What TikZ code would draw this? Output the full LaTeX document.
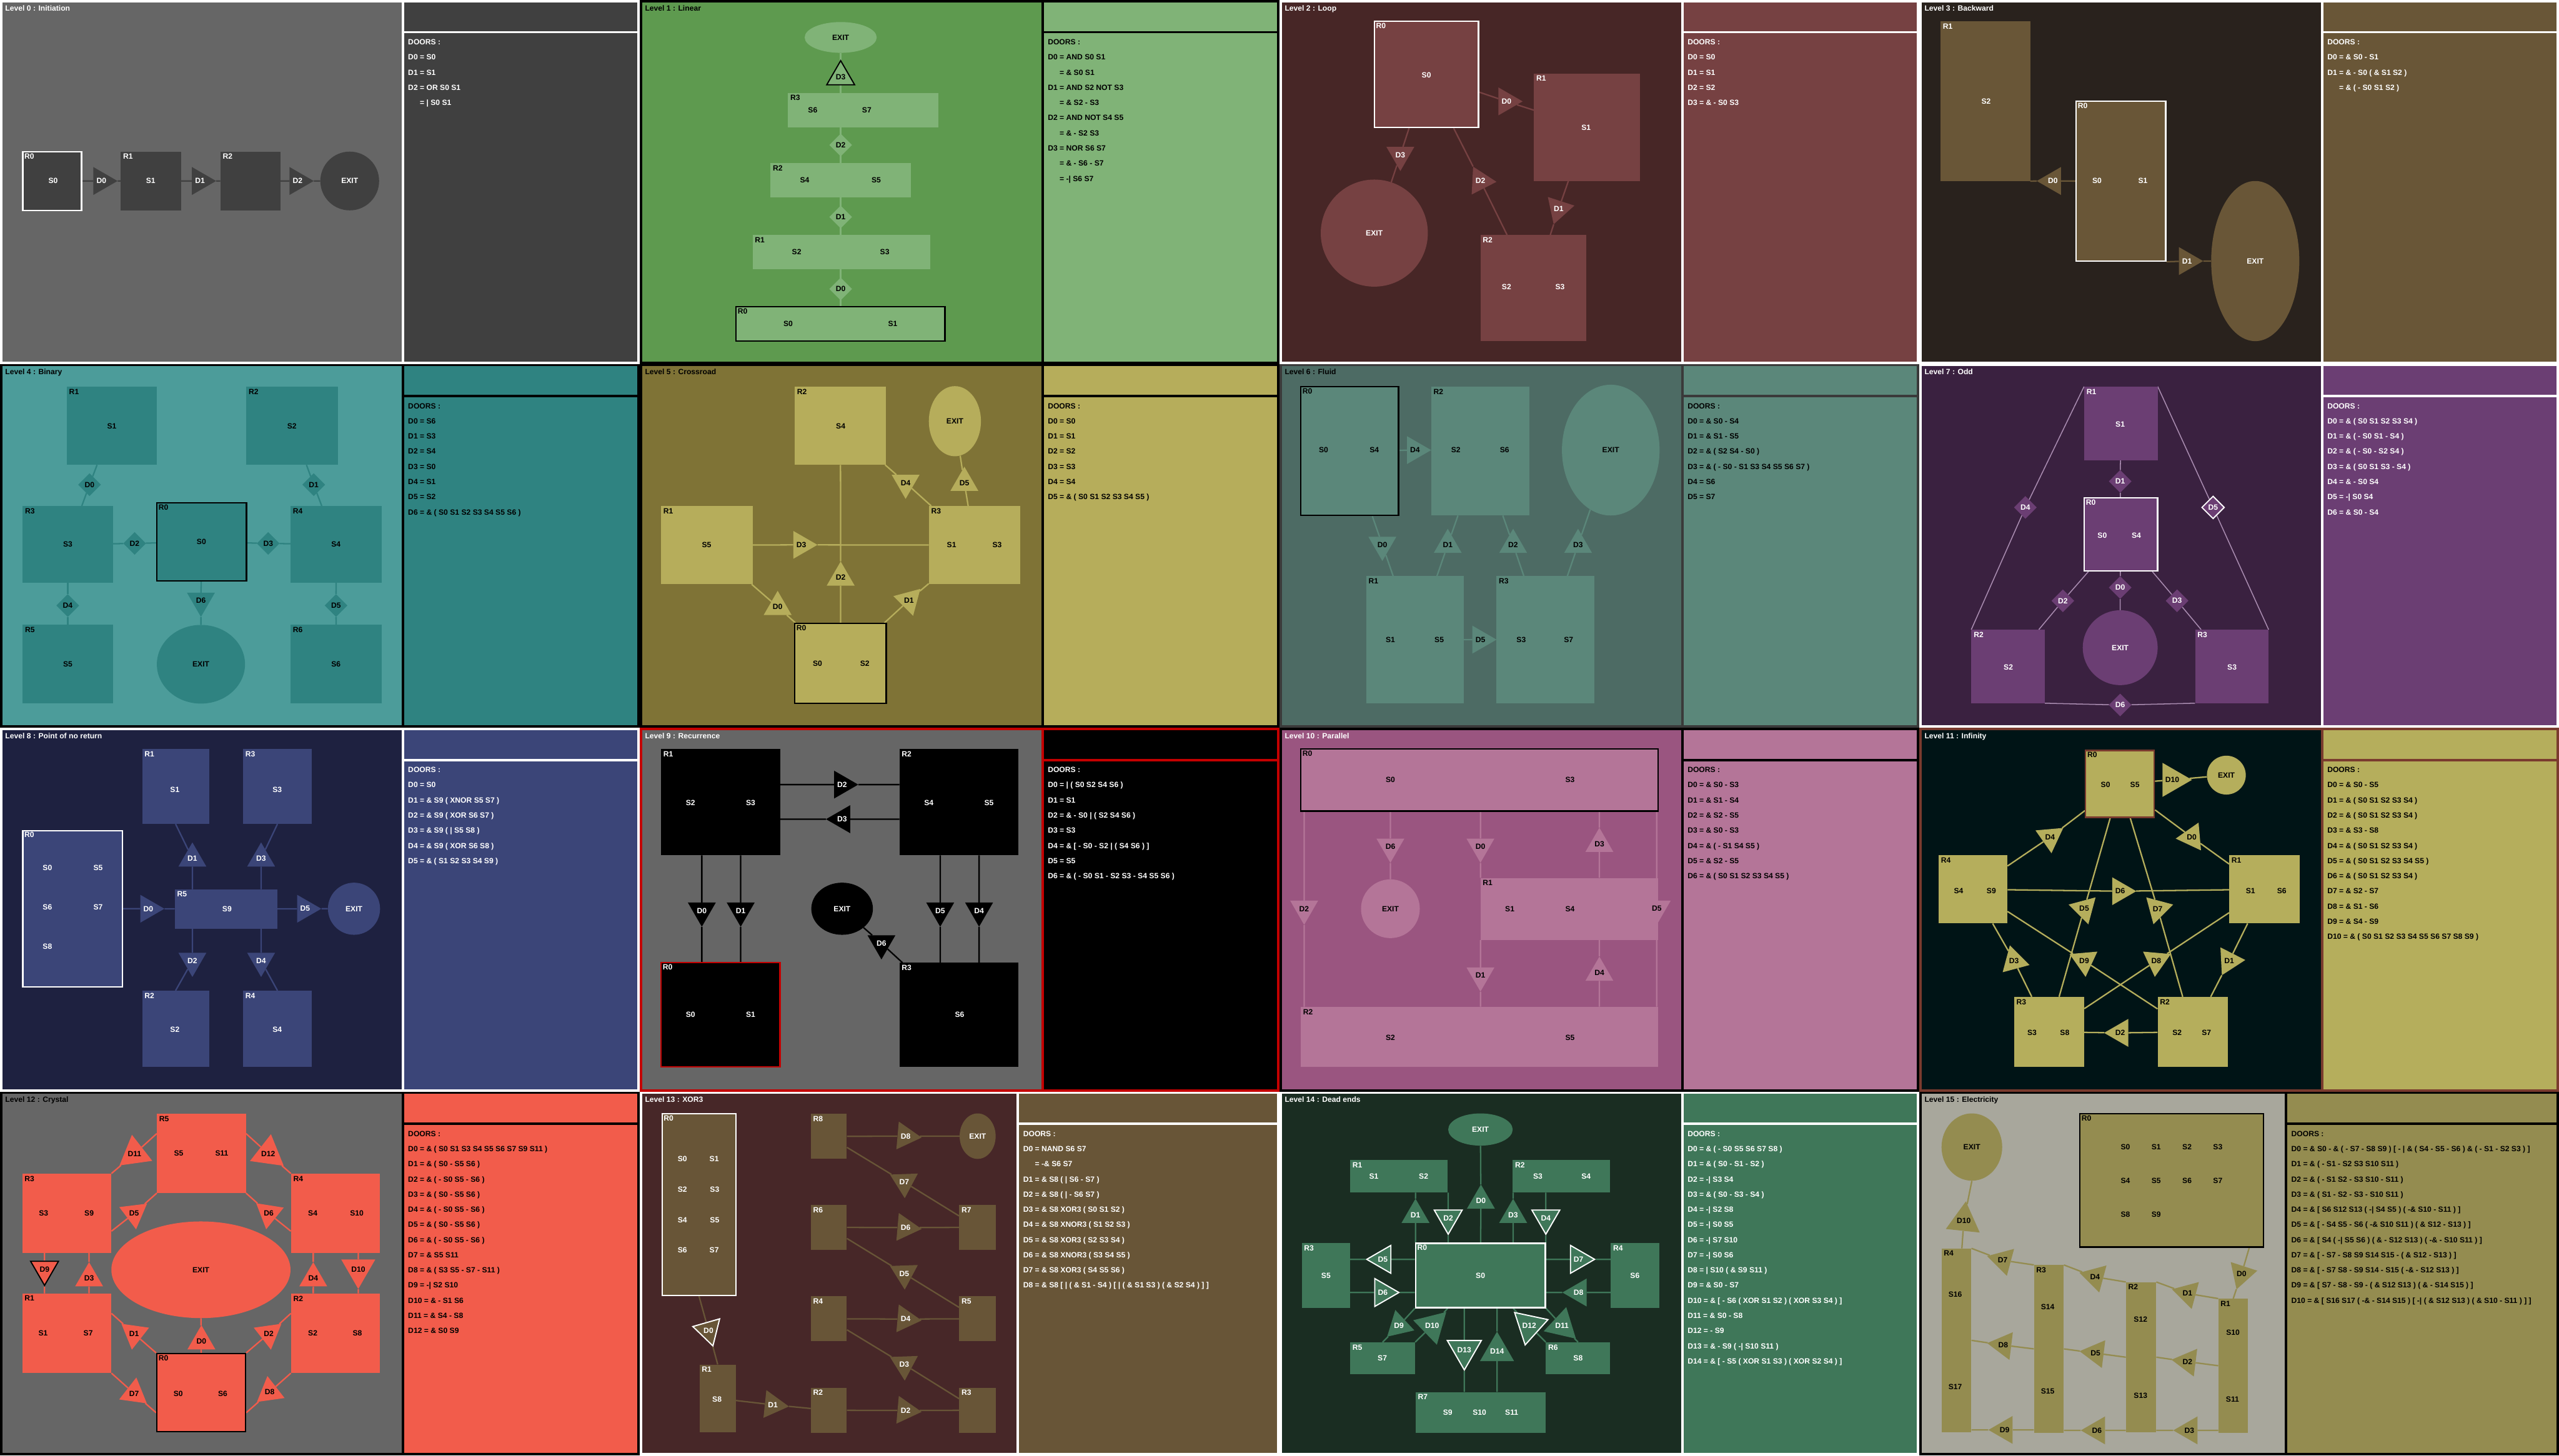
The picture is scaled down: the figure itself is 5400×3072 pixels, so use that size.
\documentclass[tikz,border=0pt]{standalone}
\usepackage{fontspec}
\setmainfont{Liberation Sans}
\usetikzlibrary{shapes.geometric,fit,calc}

% colours of each level: background, rooms
\definecolor{bg0}{HTML}{666666}\definecolor{rm0}{HTML}{404040}
\definecolor{bg1}{HTML}{5E9A4F}\definecolor{rm1}{HTML}{80B377}
\definecolor{bg2}{HTML}{472626}\definecolor{rm2}{HTML}{764142}
\definecolor{bg3}{HTML}{29221D}\definecolor{rm3}{HTML}{695637}
\definecolor{bg4}{HTML}{4C9C9A}\definecolor{rm4}{HTML}{2F8381}
\definecolor{bg5}{HTML}{7F7336}\definecolor{rm5}{HTML}{B6AD5B}
\definecolor{bg6}{HTML}{4D6B64}\definecolor{rm6}{HTML}{5B877A}
\definecolor{bg7}{HTML}{3A2140}\definecolor{rm7}{HTML}{6B3E73}
\definecolor{bg8}{HTML}{1E2140}\definecolor{rm8}{HTML}{3B4578}
\definecolor{bg9}{HTML}{666666}\definecolor{rm9}{HTML}{000000}
\definecolor{bg10}{HTML}{9A5580}\definecolor{rm10}{HTML}{B47598}
\definecolor{bg11}{HTML}{001416}\definecolor{rm11}{HTML}{B5AE5C}
\definecolor{bg12}{HTML}{666666}\definecolor{rm12}{HTML}{F25C4B}
\definecolor{bg13}{HTML}{472728}\definecolor{rm13}{HTML}{685537}
\definecolor{bg14}{HTML}{1A2D22}\definecolor{rm14}{HTML}{3F7759}
\definecolor{bg15}{HTML}{A8A79C}\definecolor{rm15}{HTML}{948C50}
\definecolor{fr6}{HTML}{3A3A3A}\definecolor{fr9}{HTML}{C40000}
\definecolor{fr11}{HTML}{7A3B2E}\definecolor{ln7}{HTML}{A98CB0}

\pgfdeclarelayer{panels}
\pgfdeclarelayer{links}
\pgfsetlayers{panels,links,main}

\newcommand{\lbl}{\fontsize{16}{19}\selectfont\bfseries}
\newcommand{\lst}{\fontsize{16}{32}\selectfont\bfseries}
\newcommand{\setlevel}[4]{\colorlet{pbg}{#1}\colorlet{proom}{#2}\colorlet{ptxt}{#3}\colorlet{pframe}{#4}\colorlet{pttl}{#3}\colorlet{pline}{#2}}
\newcommand{\cont}{\hphantom{D0~}}

% frame, title and door list of one level
\newcommand{\levelpanel}[4]{%
  \begin{pgfonlayer}{panels}
    \fill[pbg] (0,0) rectangle (#2,768);
    \fill[proom] (#2,0) rectangle (1350,768);
    \draw[frame] (2.5,2.5) rectangle (#2,765.5);
    \draw[frame] (#2,2.5) rectangle (1347.5,765.5);
    \draw[frame] (#2,68) -- (1347.5,68);
  \end{pgfonlayer}
  \node[ttl] (#1title) at (11,11) {#3};
  \node[doorlist] (#1list) at (#2+11,83) {#4};
}
\newcommand{\room}[5][]{\node[room,fit={(#3) (#4)},label={[rlbl]north west:#5},#1] (#2) {};}
\newcommand{\links}[1]{\begin{pgfonlayer}{links}#1\end{pgfonlayer}}

\tikzset{
  room/.style={rectangle, fill=proom, inner sep=0pt},
  rlbl/.style={anchor=north west, inner sep=5pt, text=ptxt, font=\lbl},
  slbl/.style={inner sep=0pt, text=ptxt, font=\lbl},
  start/.style={draw=pframe, line width=3pt},
  door/.style={regular polygon, regular polygon sides=3, fill=proom, minimum size=68,
    inner sep=0pt, text=ptxt, font=\lbl},
  twoway/.style={diamond, aspect=1, fill=proom, minimum width=48, minimum height=48,
    inner sep=0pt, text=ptxt, font=\lbl},
  hl/.style={draw=pframe, line width=2.5pt},
  exitn/.style={ellipse, fill=proom, inner sep=0pt, text=ptxt, font=\lbl},
  link/.style={draw=pline, line width=3pt},
  frame/.style={draw=pframe, line width=5pt},
  ttl/.style={anchor=north west, inner sep=0pt, text=pttl, font=\lbl},
  doorlist/.style={anchor=north west, inner sep=0pt, align=left, text=ptxt, font=\lst},
}

\begin{document}
\begin{tikzpicture}[x=1pt, y=-1pt]
\useasboundingbox (0,0) rectangle (5400,3072);

% Level 0
\begin{scope}[shift={(0,0)}]
  \setlevel{bg0}{rm0}{white}{white}
  \levelpanel{p0}{850}{Level 0 : Initiation}{DOORS :\\D0 = S0\\D1 = S1\\D2 = OR S0 S1\\\cont= | S0 S1}
  \room[start]{p0r0}{48,320}{172,444}{R0}
  \room{p0r1}{255,320}{382,444}{R1}
  \room{p0r2}{465,320}{592,444}{R2}
  \node[exitn, minimum width=124, minimum height=124] (p0exit) at (738,382) {EXIT};
  \node[slbl] (p0s0) at (112,382) {S0};
  \node[slbl] (p0s1) at (318,382) {S1};
  \node[door, shape border rotate=-90] (p0d0) at (214,382) {D0};
  \node[door, shape border rotate=-90] (p0d1) at (422,382) {D1};
  \node[door, shape border rotate=-90] (p0d2) at (628,382) {D2};
  \links{\draw[link] (p0r0) -- (p0d0) -- (p0r1) -- (p0d1) -- (p0r2) -- (p0d2) -- (p0exit);}
\end{scope}

% Level 1
\begin{scope}[shift={(1350,0)}]
  \setlevel{bg1}{rm1}{black}{black}
  \levelpanel{p1}{850}{Level 1 : Linear}{DOORS :\\D0 = AND S0 S1\\\cont= \& S0 S1\\D1 = AND S2 NOT S3\\\cont= \& S2 - S3\\D2 = AND NOT S4 S5\\\cont= \& - S2 S3\\D3 = NOR S6 S7\\\cont= \& - S6 - S7\\\cont= -| S6 S7}
  \node[exitn, minimum width=152, minimum height=65] (p1exit) at (424,79) {EXIT};
  \room{p1r3}{313,196}{630,269}{R3}
  \room{p1r2}{276,344}{572,417}{R2}
  \room{p1r1}{238,496}{613,568}{R1}
  \room[start]{p1r0}{203,647}{644,720}{R0}
  \node[slbl] (p1s6) at (365,232) {S6};
  \node[slbl] (p1s7) at (479,232) {S7};
  \node[slbl] (p1s4) at (348,380) {S4};
  \node[slbl] (p1s5) at (499,380) {S5};
  \node[slbl] (p1s2) at (331,532) {S2};
  \node[slbl] (p1s3) at (517,532) {S3};
  \node[slbl] (p1s0) at (313,683) {S0};
  \node[slbl] (p1s1) at (534,683) {S1};
  \node[door, hl] (p1d3) at (424,162) {D3};
  \node[twoway] (p1d2) at (424,306) {D2};
  \node[twoway] (p1d1) at (424,458) {D1};
  \node[twoway] (p1d0) at (424,610) {D0};
  \links{\draw[link] (p1d0 |- p1r0.north) -- (p1exit.south);}
\end{scope}

% Level 2
\begin{scope}[shift={(2700,0)}]
  \setlevel{bg2}{rm2}{white}{white}
  \levelpanel{p2}{850}{Level 2 : Loop}{DOORS :\\D0 = S0\\D1 = S1\\D2 = S2\\D3 = \& - S0 S3}
  \room[start]{p2r0}{200,45}{420,269}{R0}
  \room{p2r1}{537,155}{761,382}{R1}
  \room{p2r2}{424,496}{647,720}{R2}
  \node[exitn, minimum width=226, minimum height=226] (p2exit) at (200,492) {EXIT};
  \node[slbl] (p2s0) at (310,158) {S0};
  \node[slbl] (p2s1) at (647,269) {S1};
  \node[slbl] (p2s2) at (479,606) {S2};
  \node[slbl] (p2s3) at (592,606) {S3};
  \node[door, shape border rotate=-90] (p2d0) at (479,214) {D0};
  \node[door, shape border rotate=162] (p2d1) at (589,441) {D1};
  \node[door, shape border rotate=27] (p2d2) at (424,382) {D2};
  \node[door, shape border rotate=180] (p2d3) at (255,327) {D3};
  \links{\draw[link] (p2r0) -- (p2d0) -- (p2r1) -- (p2d1) -- (p2r2) -- (p2d2) -- (p2r0);
    \draw[link] (p2r0) -- (p2d3) -- (p2exit);}
\end{scope}

% Level 3
\begin{scope}[shift={(4050,0)}]
  \setlevel{bg3}{rm3}{white}{white}
  \levelpanel{p3}{850}{Level 3 : Backward}{DOORS :\\D0 = \& S0 - S1\\D1 = \& - S0 ( \& S1 S2 )\\\cont= \& ( - S0 S1 S2 )}
  \room{p3r1}{45,45}{234,382}{R1}
  \room[start]{p3r0}{331,214}{520,551}{R0}
  \node[exitn, minimum width=186, minimum height=338] (p3exit) at (709,551) {EXIT};
  \node[slbl] (p3s2) at (141,214) {S2};
  \node[slbl] (p3s0) at (375,382) {S0};
  \node[slbl] (p3s1) at (472,382) {S1};
  \node[door, shape border rotate=90] (p3d0) at (282,382) {D0};
  \node[door, shape border rotate=-90] (p3d1) at (565,551) {D1};
  \links{\draw[link] (p3r0) -- (p3d0) -- (p3r1.south east);
    \draw[link] (p3r0.south east) -- (p3d1) -- (p3exit);}
\end{scope}

% Level 4
\begin{scope}[shift={(0,768)}]
  \setlevel{bg4}{rm4}{black}{black}
  \levelpanel{p4}{850}{Level 4 : Binary}{DOORS :\\D0 = S6\\D1 = S3\\D2 = S4\\D3 = S0\\D4 = S1\\D5 = S2\\D6 = \& ( S0 S1 S2 S3 S4 S5 S6 )}
  \room{p4r1}{141,48}{331,213}{R1}
  \room{p4r2}{520,48}{713,213}{R2}
  \room{p4r3}{48,300}{238,462}{R3}
  \room[start]{p4r0}{331,293}{520,458}{R0}
  \room{p4r4}{613,300}{806,462}{R4}
  \room{p4r5}{48,551}{238,716}{R5}
  \room{p4r6}{613,551}{806,716}{R6}
  \node[exitn, minimum width=186, minimum height=166] (p4exit) at (424,634) {EXIT};
  \node[slbl] (p4s1) at (236,131) {S1};
  \node[slbl] (p4s2) at (616,131) {S2};
  \node[slbl] (p4s3) at (143,381) {S3};
  \node[slbl] (p4s0) at (425,375) {S0};
  \node[slbl] (p4s4) at (709,381) {S4};
  \node[slbl] (p4s5) at (143,634) {S5};
  \node[slbl] (p4s6) at (709,634) {S6};
  \node[twoway] (p4d0) at (189,255) {D0};
  \node[twoway] (p4d1) at (662,255) {D1};
  \node[twoway] (p4d2) at (284,379) {D2};
  \node[twoway] (p4d3) at (566,379) {D3};
  \node[twoway] (p4d4) at (143,510) {D4};
  \node[twoway] (p4d5) at (709,510) {D5};
  \node[door, shape border rotate=180] (p4d6) at (424,500) {D6};
  \links{\draw[link] (p4r1) -- (p4d0) -- (p4r3);
    \draw[link] (p4r2) -- (p4d1) -- (p4r4);
    \draw[link] (p4r3) -- (p4d2) -- (p4r0) -- (p4d3) -- (p4r4);
    \draw[link] (p4r3) -- (p4d4) -- (p4r5);
    \draw[link] (p4r4) -- (p4d5) -- (p4r6);
    \draw[link] (p4r0) -- (p4d6) -- (p4exit);}
\end{scope}

% Level 5
\begin{scope}[shift={(1350,768)}]
  \setlevel{bg5}{rm5}{black}{black}
  \levelpanel{p5}{850}{Level 5 : Crossroad}{DOORS :\\D0 = S0\\D1 = S1\\D2 = S2\\D3 = S3\\D4 = S4\\D5 = \& ( S0 S1 S2 S3 S4 S5 )}
  \room{p5r2}{327,48}{520,213}{R2}
  \room{p5r1}{45,300}{238,465}{R1}
  \room{p5r3}{610,300}{803,465}{R3}
  \room[start]{p5r0}{327,548}{520,716}{R0}
  \node[exitn, minimum width=110, minimum height=148] (p5exit) at (665,121) {EXIT};
  \node[slbl] (p5s4) at (424,131) {S4};
  \node[slbl] (p5s5) at (141,382) {S5};
  \node[slbl] (p5s1) at (658,382) {S1};
  \node[slbl] (p5s3) at (754,382) {S3};
  \node[slbl] (p5s0) at (375,632) {S0};
  \node[slbl] (p5s2) at (475,632) {S2};
  \node[door, shape border rotate=-120] (p5d0) at (291,513) {D0};
  \node[door, shape border rotate=-45] (p5d1) at (568,499) {D1};
  \node[door] (p5d2) at (424,451) {D2};
  \node[door, shape border rotate=-90] (p5d3) at (341,382) {D3};
  \node[door, shape border rotate=60] (p5d4) at (561,251) {D4};
  \node[door] (p5d5) at (685,251) {D5};
  \links{\draw[link] (p5r1) -- (p5d3) -- (p5r3);
    \draw[link] (p5r0) -- (p5d2) -- (p5r2);
    \draw[link] (p5r2) -- (p5d4) -- (p5r3) -- (p5d5) -- (p5exit);
    \draw[link] (p5r1) -- (p5d0) -- (p5r0) -- (p5d1) -- (p5r3);}
\end{scope}

% Level 6
\begin{scope}[shift={(2700,768)}]
  \setlevel{bg6}{rm6}{black}{fr6}
  \levelpanel{p6}{850}{Level 6 : Fluid}{DOORS :\\D0 = \& S0 - S4\\D1 = \& S1 - S5\\D2 = \& ( S2 S4 - S0 )\\D3 = \& ( - S0 - S1 S3 S4 S5 S6 S7 )\\D4 = S6\\D5 = S7}
  \room[start, draw=black]{p6r0}{45,48}{251,320}{R0}
  \room{p6r2}{320,48}{527,320}{R2}
  \room{p6r1}{183,448}{389,716}{R1}
  \room{p6r3}{458,448}{665,716}{R3}
  \node[exitn, minimum width=206, minimum height=276] (p6exit) at (699,182) {EXIT};
  \node[slbl] (p6s0) at (93,182) {S0};
  \node[slbl] (p6s4) at (200,182) {S4};
  \node[slbl] (p6s2) at (372,182) {S2};
  \node[slbl] (p6s6) at (475,182) {S6};
  \node[slbl] (p6s1) at (234,582) {S1};
  \node[slbl] (p6s5) at (337,582) {S5};
  \node[slbl] (p6s3) at (510,582) {S3};
  \node[slbl] (p6s7) at (610,582) {S7};
  \node[door, shape border rotate=180] (p6d0) at (217,382) {D0};
  \node[door] (p6d1) at (355,382) {D1};
  \node[door] (p6d2) at (493,382) {D2};
  \node[door] (p6d3) at (630,382) {D3};
  \node[door, shape border rotate=-90] (p6d4) at (286,182) {D4};
  \node[door, shape border rotate=-90] (p6d5) at (424,582) {D5};
  \links{\draw[link] (p6r0) -- (p6d4) -- (p6r2);
    \draw[link] (p6r0) -- (p6d0) -- (p6r1) -- (p6d1) -- (p6r2);
    \draw[link] (p6r3) -- (p6d2) -- (p6r2);
    \draw[link] (p6r3) -- (p6d3) -- (p6exit);
    \draw[link] (p6r1) -- (p6d5) -- (p6r3);}
\end{scope}

% Level 7
\begin{scope}[shift={(4050,768)}]
  \setlevel{bg7}{rm7}{white}{white}
  \colorlet{pline}{ln7}
  \levelpanel{p7}{850}{Level 7 : Odd}{DOORS :\\D0 = \& ( S0 S1 S2 S3 S4 )\\D1 = \& ( - S0 S1 - S4 )\\D2 = \& ( - S0 - S2 S4 )\\D3 = \& ( S0 S1 S3 - S4 )\\D4 = \& - S0 S4\\D5 = -| S0 S4\\D6 = \& S0 - S4}
  \room{p7r1}{348,48}{503,203}{R1}
  \room[start]{p7r0}{348,283}{503,437}{R0}
  \room{p7r2}{110,561}{265,716}{R2}
  \room{p7r3}{582,561}{737,716}{R3}
  \node[exitn, minimum width=158, minimum height=158] (p7exit) at (424,599) {EXIT};
  \node[slbl] (p7s1) at (424,127) {S1};
  \node[slbl] (p7s0) at (386,362) {S0};
  \node[slbl] (p7s4) at (458,362) {S4};
  \node[slbl] (p7s2) at (188,640) {S2};
  \node[slbl] (p7s3) at (660,640) {S3};
  \node[twoway] (p7d1) at (424,248) {D1};
  \node[twoway] (p7d4) at (224,303) {D4};
  \node[twoway, hl] (p7d5) at (620,303) {D5};
  \node[twoway] (p7d2) at (303,500) {D2};
  \node[twoway] (p7d0) at (424,472) {D0};
  \node[twoway] (p7d3) at (544,500) {D3};
  \node[twoway] (p7d6) at (424,720) {D6};
  \links{\draw[link, line width=2pt] (p7r1) -- (p7d1) -- (p7r0) -- (p7d0) -- (p7exit);
    \draw[link, line width=2pt] (p7r1.north west) -- (p7d4) -- (p7r2.north west);
    \draw[link, line width=2pt] (p7r1.north east) -- (p7d5) -- (p7r3.north east);
    \draw[link, line width=2pt] (p7r2) -- (p7d2) -- (p7r0) -- (p7d3) -- (p7r3);
    \draw[link, line width=2pt] (p7r2.south east) -- (p7d6) -- (p7r3.south west);}
\end{scope}

% Level 8
\begin{scope}[shift={(0,1536)}]
  \setlevel{bg8}{rm8}{white}{white}
  \levelpanel{p8}{850}{Level 8 : Point of no return}{DOORS :\\D0 = S0\\D1 = \& S9 ( XNOR S5 S7 )\\D2 = \& S9 ( XOR S6 S7 )\\D3 = \& S9 ( | S5 S8 )\\D4 = \& S9 ( XOR S6 S8 )\\D5 = \& ( S1 S2 S3 S4 S9 )}
  \room{p8r1}{300,45}{441,203}{R1}
  \room{p8r3}{513,45}{658,203}{R3}
  \room[start]{p8r0}{48,217}{258,547}{R0}
  \room{p8r5}{369,341}{585,424}{R5}
  \room{p8r2}{300,555}{441,716}{R2}
  \room{p8r4}{513,555}{658,716}{R4}
  \node[exitn, minimum width=110, minimum height=110] (p8exit) at (747,382) {EXIT};
  \node[slbl] (p8s1) at (369,131) {S1};
  \node[slbl] (p8s3) at (585,131) {S3};
  \node[slbl] (p8s0) at (100,296) {S0};
  \node[slbl] (p8s5) at (207,296) {S5};
  \node[slbl] (p8s6) at (100,379) {S6};
  \node[slbl] (p8s7) at (207,379) {S7};
  \node[slbl] (p8s8) at (100,462) {S8};
  \node[slbl] (p8s9) at (479,382) {S9};
  \node[slbl] (p8s2) at (369,637) {S2};
  \node[slbl] (p8s4) at (585,637) {S4};
  \node[door, shape border rotate=-90] (p8d0) at (313,382) {D0};
  \node[door] (p8d1) at (406,276) {D1};
  \node[door, shape border rotate=180] (p8d2) at (406,492) {D2};
  \node[door] (p8d3) at (551,276) {D3};
  \node[door, shape border rotate=180] (p8d4) at (551,492) {D4};
  \node[door, shape border rotate=-90] (p8d5) at (644,382) {D5};
  \links{\draw[link] (p8r0) -- (p8d0) -- (p8r5) -- (p8d5) -- (p8exit);
    \draw[link] (p8d1 |- p8r5.north) -- (p8d1) -- (p8r1.south);
    \draw[link] (p8d3 |- p8r5.north) -- (p8d3) -- (p8r3.south);
    \draw[link] (p8d2 |- p8r5.south) -- (p8d2) -- (p8r2.north);
    \draw[link] (p8d4 |- p8r5.south) -- (p8d4) -- (p8r4.north);}
\end{scope}

% Level 9
\begin{scope}[shift={(1350,1536)}]
  \setlevel{bg9}{rm9}{white}{fr9}
  \levelpanel{p9}{850}{Level 9 : Recurrence}{DOORS :\\D0 = | ( S0 S2 S4 S6 )\\D1 = S1\\D2 = \& - S0 | ( S2 S4 S6 )\\D3 = S3\\D4 = \& [ - S0 - S2 | ( S4 S6 ) ]\\D5 = S5\\D6 = \& ( - S0 S1 - S2 S3 - S4 S5 S6 )}
  \room{p9r1}{45,45}{296,269}{R1}
  \room{p9r2}{548,45}{799,269}{R2}
  \room[start]{p9r0}{45,496}{296,716}{R0}
  \room{p9r3}{548,496}{799,716}{R3}
  \node[exitn, minimum width=130, minimum height=110] (p9exit) at (427,382) {EXIT};
  \node[slbl] (p9s2) at (107,158) {S2};
  \node[slbl] (p9s3) at (234,158) {S3};
  \node[slbl] (p9s4) at (610,158) {S4};
  \node[slbl] (p9s5) at (737,158) {S5};
  \node[slbl] (p9s0) at (107,606) {S0};
  \node[slbl] (p9s1) at (234,606) {S1};
  \node[slbl] (p9s6) at (675,606) {S6};
  \node[door, shape border rotate=-90] (p9d2) at (427,120) {D2};
  \node[door, shape border rotate=90] (p9d3) at (427,193) {D3};
  \node[door, shape border rotate=180] (p9d0) at (131,386) {D0};
  \node[door, shape border rotate=180] (p9d1) at (213,386) {D1};
  \node[door, shape border rotate=180] (p9d5) at (634,386) {D5};
  \node[door, shape border rotate=180] (p9d4) at (716,386) {D4};
  \node[door, shape border rotate=60] (p9d6) at (510,455) {D6};
  \links{\draw[link] (p9d2 -| p9r1.east) -- (p9d2) -- (p9d2 -| p9r2.west);
    \draw[link] (p9d3 -| p9r1.east) -- (p9d3) -- (p9d3 -| p9r2.west);
    \draw[link] (p9d0 |- p9r1.south) -- (p9d0) -- (p9d0 |- p9r0.north);
    \draw[link] (p9d1 |- p9r1.south) -- (p9d1) -- (p9d1 |- p9r0.north);
    \draw[link] (p9d5 |- p9r2.south) -- (p9d5) -- (p9d5 |- p9r3.north);
    \draw[link] (p9d4 |- p9r2.south) -- (p9d4) -- (p9d4 |- p9r3.north);
    \draw[link] (p9r3) -- (p9d6) -- (p9exit);}
\end{scope}

% Level 10
\begin{scope}[shift={(2700,1536)}]
  \setlevel{bg10}{rm10}{black}{black}
  \colorlet{pttl}{white}
  \levelpanel{p10}{850}{Level 10 : Parallel}{DOORS :\\D0 = \& S0 - S3\\D1 = \& S1 - S4\\D2 = \& S2 - S5\\D3 = \& S0 - S3\\D4 = \& ( - S1 S4 S5 )\\D5 = \& S2 - S5\\D6 = \& ( S0 S1 S2 S3 S4 S5 )}
  \room[start]{p10r0}{45,45}{799,176}{R0}
  \room{p10r1}{424,317}{799,448}{R1}
  \room{p10r2}{45,589}{799,716}{R2}
  \node[exitn, minimum width=124, minimum height=124] (p10exit) at (234,382) {EXIT};
  \node[slbl] (p10s0) at (234,110) {S0};
  \node[slbl] (p10s3) at (613,110) {S3};
  \node[slbl] (p10s1) at (486,382) {S1};
  \node[slbl] (p10s4) at (613,382) {S4};
  \node[slbl] (p10s2) at (234,654) {S2};
  \node[slbl] (p10s5) at (613,654) {S5};
  \node[door, shape border rotate=180] (p10d6) at (234,251) {D6};
  \node[door, shape border rotate=180] (p10d0) at (424,251) {D0};
  \node[door] (p10d3) at (675,245) {D3};
  \node[door, shape border rotate=180] (p10d2) at (52,382) {D2};
  \node[door, shape border rotate=180] (p10d5) at (796,382) {D5};
  \node[door, shape border rotate=180] (p10d1) at (424,523) {D1};
  \node[door] (p10d4) at (675,517) {D4};
  \links{\draw[link] (p10d6 |- p10r0.south) -- (p10d6) -- (p10exit);
    \draw[link] (p10d0 |- p10r0.south) -- (p10d0) -- (p10d0 |- p10r1.north);
    \draw[link] (p10d3 |- p10r0.south) -- (p10d3) -- (p10d3 |- p10r1.north);
    \draw[link] (p10d2 |- p10r0.south) -- (p10d2) -- (p10d2 |- p10r2.north);
    \draw[link] (p10d5 |- p10r0.south) -- (p10d5) -- (p10d5 |- p10r2.north);
    \draw[link] (p10d1 |- p10r1.south) -- (p10d1) -- (p10d1 |- p10r2.north);
    \draw[link] (p10d4 |- p10r1.south) -- (p10d4) -- (p10d4 |- p10r2.north);}
\end{scope}

% Level 11
\begin{scope}[shift={(4050,1536)}]
  \setlevel{bg11}{rm11}{black}{fr11}
  \colorlet{pttl}{white}
  \levelpanel{p11}{850}{Level 11 : Infinity}{DOORS :\\D0 = \& S0 - S5\\D1 = \& ( S0 S1 S2 S3 S4 )\\D2 = \& ( S0 S1 S2 S3 S4 )\\D3 = \& S3 - S8\\D4 = \& ( S0 S1 S2 S3 S4 )\\D5 = \& ( S0 S1 S2 S3 S4 S5 )\\D6 = \& ( S0 S1 S2 S3 S4 )\\D7 = \& S2 - S7\\D8 = \& S1 - S6\\D9 = \& S4 - S9\\D10 = \& ( S0 S1 S2 S3 S4 S5 S6 S7 S8 S9 )}
  \room[start]{p11r0}{351,48}{496,189}{R0}
  \room{p11r4}{41,269}{186,413}{R4}
  \room{p11r1}{654,269}{803,413}{R1}
  \room{p11r3}{200,568}{348,716}{R3}
  \room{p11r2}{503,568}{651,716}{R2}
  \node[exitn, minimum width=82, minimum height=82] (p11exit) at (648,100) {EXIT};
  \node[slbl] (p11s0) at (393,120) {S0};
  \node[slbl] (p11s5) at (455,120) {S5};
  \node[slbl] (p11s4) at (83,345) {S4};
  \node[slbl] (p11s9) at (152,345) {S9};
  \node[slbl] (p11s1) at (699,345) {S1};
  \node[slbl] (p11s6) at (765,345) {S6};
  \node[slbl] (p11s3) at (238,644) {S3};
  \node[slbl] (p11s8) at (307,644) {S8};
  \node[slbl] (p11s2) at (544,644) {S2};
  \node[slbl] (p11s7) at (606,644) {S7};
  \node[door, shape border rotate=-90] (p11d10) at (534,110) {D10};
  \node[door, shape border rotate=-55] (p11d4) at (276,231) {D4};
  \node[door, shape border rotate=-145] (p11d0) at (575,231) {D0};
  \node[door, shape border rotate=-90] (p11d6) at (424,345) {D6};
  \node[door, shape border rotate=-165] (p11d5) at (348,382) {D5};
  \node[door, shape border rotate=165] (p11d7) at (503,382) {D7};
  \node[door, shape border rotate=15] (p11d3) at (200,492) {D3};
  \node[door, shape border rotate=-55] (p11d9) at (348,492) {D9};
  \node[door, shape border rotate=55] (p11d8) at (500,492) {D8};
  \node[door, shape border rotate=153] (p11d1) at (654,492) {D1};
  \node[door, shape border rotate=90] (p11d2) at (424,644) {D2};
  \links{\draw[link] (p11r0) -- (p11d10) -- (p11exit);
    \draw[link] (p11r4) -- (p11d4) -- (p11r0) -- (p11d0) -- (p11r1) -- (p11d1) -- (p11r2) -- (p11d2) -- (p11r3) -- (p11d3) -- (p11r4);
    \draw[link] (p11r4) -- (p11d6) -- (p11r1);
    \draw[link] (p11r0) -- (p11d5) -- (p11r3);
    \draw[link] (p11r0) -- (p11d7) -- (p11r2);
    \draw[link] (p11r4) -- (p11d9) -- (p11r2);
    \draw[link] (p11r1) -- (p11d8) -- (p11r3);}
\end{scope}

% Level 12
\begin{scope}[shift={(0,2304)}]
  \setlevel{bg12}{rm12}{black}{black}
  \levelpanel{p12}{850}{Level 12 : Crystal}{DOORS :\\D0 = \& ( S0 S1 S3 S4 S5 S6 S7 S9 S11 )\\D1 = \& ( S0 - S5 S6 )\\D2 = \& ( - S0 S5 - S6 )\\D3 = \& ( S0 - S5 S6 )\\D4 = \& ( - S0 S5 - S6 )\\D5 = \& ( S0 - S5 S6 )\\D6 = \& ( - S0 S5 - S6 )\\D7 = \& S5 S11\\D8 = \& ( S3 S5 - S7 - S11 )\\D9 = -| S2 S10\\D10 = \& - S1 S6\\D11 = \& S4 - S8\\D12 = \& S0 S9}
  \room{p12r5}{331,47}{519,214}{R5}
  \room{p12r3}{47,173}{235,340}{R3}
  \room{p12r4}{614,173}{802,340}{R4}
  \room{p12r1}{47,426}{235,594}{R1}
  \room{p12r2}{614,426}{802,594}{R2}
  \room[start]{p12r0}{331,553}{518,718}{R0}
  \node[exitn, minimum width=378, minimum height=204] (p12exit) at (424,376) {EXIT};
  \node[slbl] (p12s5) at (377,130) {S5};
  \node[slbl] (p12s11) at (468,130) {S11};
  \node[slbl] (p12s3) at (92,257) {S3};
  \node[slbl] (p12s9) at (188,257) {S9};
  \node[slbl] (p12s4) at (660,257) {S4};
  \node[slbl] (p12s10) at (753,257) {S10};
  \node[slbl] (p12s1) at (91,510) {S1};
  \node[slbl] (p12s7) at (186,510) {S7};
  \node[slbl] (p12s2) at (660,510) {S2};
  \node[slbl] (p12s8) at (754,510) {S8};
  \node[slbl] (p12s0) at (376,637) {S0};
  \node[slbl] (p12s6) at (470,637) {S6};
  \node[door, shape border rotate=8] (p12d11) at (284,131) {D11};
  \node[door, shape border rotate=-8] (p12d12) at (566,131) {D12};
  \node[door, shape border rotate=-173] (p12d5) at (283,257) {D5};
  \node[door, shape border rotate=171] (p12d6) at (567,257) {D6};
  \node[door, hl, shape border rotate=180] (p12d9) at (94,375) {D9};
  \node[door] (p12d3) at (188,394) {D3};
  \node[door] (p12d4) at (661,394) {D4};
  \node[door, shape border rotate=180] (p12d10) at (756,375) {D10};
  \node[door, shape border rotate=172] (p12d1) at (283,511) {D1};
  \node[door] (p12d0) at (425,527) {D0};
  \node[door, shape border rotate=-172] (p12d2) at (567,511) {D2};
  \node[door, shape border rotate=-8] (p12d7) at (283,637) {D7};
  \node[door, shape border rotate=8] (p12d8) at (569,634) {D8};
  \links{\draw[link] (p12r5.156) -- (p12d11) -- (p12r3.north east);
    \draw[link] (p12r5.24) -- (p12d12) -- (p12r4.north west);
    \draw[link] (p12r5.south west) -- (p12d5) -- (p12r3.-22);
    \draw[link] (p12r5.south east) -- (p12d6) -- (p12r4.202);
    \draw[link] (p12d9 |- p12r3.south) -- (p12d9) -- (p12d9 |- p12r1.north);
    \draw[link] (p12d3 |- p12r3.south) -- (p12d3) -- (p12d3 |- p12r1.north);
    \draw[link] (p12d4 |- p12r4.south) -- (p12d4) -- (p12d4 |- p12r2.north);
    \draw[link] (p12d10 |- p12r4.south) -- (p12d10) -- (p12d10 |- p12r2.north);
    \draw[link] (p12r1.24) -- (p12d1) -- (p12r0.north west);
    \draw[link] (p12exit.south) -- (p12d0) -- (p12r0.north);
    \draw[link] (p12r2.156) -- (p12d2) -- (p12r0.north east);
    \draw[link] (p12r1.south east) -- (p12d7) -- (p12r0.204);
    \draw[link] (p12r2.south west) -- (p12d8) -- (p12r0.-24);}
\end{scope}

% Level 13
\begin{scope}[shift={(1350,2304)}]
  \setlevel{bg13}{rm13}{white}{white}
  \levelpanel{p13}{798}{Level 13 : XOR3}{DOORS :\\D0 = NAND S6 S7\\\cont= -\& S6 S7\\D1 = \& S8 ( | S6 - S7 )\\D2 = \& S8 ( | - S6 S7 )\\D3 = \& S8 XOR3 ( S0 S1 S2 )\\D4 = \& S8 XNOR3 ( S1 S2 S3 )\\D5 = \& S8 XOR3 ( S2 S3 S4 )\\D6 = \& S8 XNOR3 ( S3 S4 S5 )\\D7 = \& S8 XOR3 ( S4 S5 S6 )\\D8 = \& S8 [ | ( \& S1 - S4 ) [ | ( \& S1 S3 ) ( \& S2 S4 ) ] ]}
  \room[start]{p13r0}{47,47}{203,430}{R0}
  \room{p13r1}{126,576}{203,719}{R1}
  \room{p13r2}{361,625}{437,720}{R2}
  \room{p13r3}{674,625}{752,720}{R3}
  \room{p13r4}{361,432}{437,527}{R4}
  \room{p13r5}{674,432}{752,527}{R5}
  \room{p13r6}{361,239}{437,334}{R6}
  \room{p13r7}{674,239}{752,334}{R7}
  \room{p13r8}{361,47}{437,142}{R8}
  \node[exitn, minimum width=76, minimum height=96] (p13exit) at (713,94) {EXIT};
  \node[slbl] (p13s0) at (90,142) {S0};
  \node[slbl] (p13s1) at (157,142) {S1};
  \node[slbl] (p13s2) at (90,207) {S2};
  \node[slbl] (p13s3) at (158,207) {S3};
  \node[slbl] (p13s4) at (90,271) {S4};
  \node[slbl] (p13s5) at (158,271) {S5};
  \node[slbl] (p13s6) at (90,335) {S6};
  \node[slbl] (p13s7) at (157,335) {S7};
  \node[slbl] (p13s8) at (163,649) {S8};
  \node[door, hl, shape border rotate=-164] (p13d0) at (145,504) {D0};
  \node[door, shape border rotate=-96] (p13d1) at (281,661) {D1};
  \node[door, shape border rotate=-95] (p13d2) at (561,673) {D2};
  \node[door, shape border rotate=-178] (p13d3) at (558,576) {D3};
  \node[door, shape border rotate=-95] (p13d4) at (561,480) {D4};
  \node[door, shape border rotate=-178] (p13d5) at (558,384) {D5};
  \node[door, shape border rotate=-95] (p13d6) at (561,287) {D6};
  \node[door, shape border rotate=-178] (p13d7) at (558,191) {D7};
  \node[door, shape border rotate=-95] (p13d8) at (561,94) {D8};
  \links{\draw[link] (p13r0.south) -- (p13d0) -- (p13r1.north);
    \draw[link] (p13r1) -- (p13d1) -- (p13r2) -- (p13d2) -- (p13r3) -- (p13d3) -- (p13r4) -- (p13d4) -- (p13r5) -- (p13d5) -- (p13r6) -- (p13d6) -- (p13r7) -- (p13d7) -- (p13r8) -- (p13d8) -- (p13exit);}
\end{scope}

% Level 14
\begin{scope}[shift={(2700,2304)}]
  \setlevel{bg14}{rm14}{white}{white}
  \levelpanel{p14}{850}{Level 14 : Dead ends}{DOORS :\\D0 = \& ( - S0 S5 S6 S7 S8 )\\D1 = \& ( S0 - S1 - S2 )\\D2 = -| S3 S4\\D3 = \& ( S0 - S3 - S4 )\\D4 = -| S2 S8\\D5 = -| S0 S5\\D6 = -| S7 S10\\D7 = -| S0 S6\\D8 = | S10 ( \& S9 S11 )\\D9 = \& S0 - S7\\D10 = \& [ - S6 ( XOR S1 S2 ) ( XOR S3 S4 ) ]\\D11 = \& S0 - S8\\D12 = - S9\\D13 = \& - S9 ( -| S10 S11 )\\D14 = \& [ - S5 ( XOR S1 S3 ) ( XOR S2 S4 ) ]}
  \node[exitn, minimum width=136, minimum height=68] (p14exit) at (424,80) {EXIT};
  \room{p14r1}{149,144}{355,213}{R1}
  \room{p14r2}{492,144}{698,213}{R2}
  \room[start]{p14r0}{287,320}{561,456}{R0}
  \room{p14r3}{47,320}{149,456}{R3}
  \room{p14r4}{699,320}{802,456}{R4}
  \room{p14r5}{149,529}{286,597}{R5}
  \room{p14r6}{562,529}{698,597}{R6}
  \room{p14r7}{287,634}{561,720}{R7}
  \node[slbl] (p14s1) at (199,179) {S1};
  \node[slbl] (p14s2) at (304,179) {S2};
  \node[slbl] (p14s3) at (545,179) {S3};
  \node[slbl] (p14s4) at (647,179) {S4};
  \node[slbl] (p14s0) at (424,388) {S0};
  \node[slbl] (p14s5) at (98,388) {S5};
  \node[slbl] (p14s6) at (750,388) {S6};
  \node[slbl] (p14s7) at (217,563) {S7};
  \node[slbl] (p14s8) at (630,563) {S8};
  \node[slbl] (p14s9) at (355,677) {S9};
  \node[slbl] (p14s10) at (422,677) {S10};
  \node[slbl] (p14s11) at (490,677) {S11};
  \node[door] (p14d0) at (425,230) {D0};
  \node[door] (p14d1) at (287,260) {D1};
  \node[door, hl, shape border rotate=180] (p14d2) at (356,267) {D2};
  \node[door] (p14d3) at (493,260) {D3};
  \node[door, hl, shape border rotate=180] (p14d4) at (562,267) {D4};
  \node[door, hl, shape border rotate=90] (p14d5) at (218,354) {D5};
  \node[door, hl, shape border rotate=-90] (p14d6) at (218,424) {D6};
  \node[door, hl, shape border rotate=-90] (p14d7) at (631,354) {D7};
  \node[door, shape border rotate=90] (p14d8) at (631,424) {D8};
  \node[door, shape border rotate=13] (p14d9) at (252,494) {D9};
  \node[door, shape border rotate=-166] (p14d10) at (322,494) {D10};
  \node[door, shape border rotate=-13] (p14d11) at (596,494) {D11};
  \node[door, hl, shape border rotate=168] (p14d12) at (527,494) {D12};
  \node[door, hl, shape border rotate=180] (p14d13) at (390,546) {D13};
  \node[door] (p14d14) at (459,548) {D14};
  \links{\draw[link] (p14exit) -- (p14d0) -- (p14r0);
    \draw[link] (p14d1 |- p14r1.south) -- (p14d1) -- (p14d1 |- p14r0.north);
    \draw[link] (p14d2 |- p14r1.south) -- (p14d2) -- (p14d2 |- p14r0.north);
    \draw[link] (p14d3 |- p14r2.south) -- (p14d3) -- (p14d3 |- p14r0.north);
    \draw[link] (p14d4 |- p14r2.south) -- (p14d4) -- (p14d4 |- p14r0.north);
    \draw[link] (p14d5 -| p14r3.east) -- (p14d5) -- (p14d5 -| p14r0.west);
    \draw[link] (p14d6 -| p14r3.east) -- (p14d6) -- (p14d6 -| p14r0.west);
    \draw[link] (p14d7 -| p14r0.east) -- (p14d7) -- (p14d7 -| p14r4.west);
    \draw[link] (p14d8 -| p14r0.east) -- (p14d8) -- (p14d8 -| p14r4.west);
    \draw[link] (p14r0.south west) -- (p14d9) -- (p14r5.north);
    \draw[link] ($(p14r0.south west)!0.25!(p14r0.south east)$) -- (p14d10) -- (p14r5.north east);
    \draw[link] ($(p14r0.south west)!0.75!(p14r0.south east)$) -- (p14d12) -- (p14r6.north west);
    \draw[link] (p14r0.south east) -- (p14d11) -- (p14r6.north);
    \draw[link] (p14d13 |- p14r0.south) -- (p14d13) -- (p14d13 |- p14r7.north);
    \draw[link] (p14d14 |- p14r0.south) -- (p14d14) -- (p14d14 |- p14r7.north);}
\end{scope}

% Level 15
\begin{scope}[shift={(4050,2304)}]
  \setlevel{bg15}{rm15}{black}{black}
  \levelpanel{p15}{774}{Level 15 : Electricity}{DOORS :\\D0 = \& S0 - \& ( - S7 - S8 S9 ) [ - | \& ( S4 - S5 - S6 ) \& ( - S1 - S2 S3 ) ]\\D1 = \& ( - S1 - S2 S3 S10 S11 )\\D2 = \& ( - S1 S2 - S3 S10 - S11 )\\D3 = \& ( S1 - S2 - S3 - S10 S11 )\\D4 = \& [ S6 S12 S13 ( -| S4 S5 ) ( -\& S10 - S11 ) ]\\D5 = \& [ - S4 S5 - S6 ( -\& S10 S11 ) ( \& S12 - S13 ) ]\\D6 = \& [ S4 ( -| S5 S6 ) ( \& - S12 S13 ) ( -\& - S10 S11 ) ]\\D7 = \& [ - S7 - S8 S9 S14 S15 - ( \& S12 - S13 ) ]\\D8 = \& [ - S7 S8 - S9 S14 - S15 ( -\& - S12 S13 ) ]\\D9 = \& [ S7 - S8 - S9 - ( \& S12 S13 ) ( \& - S14 S15 ) ]\\D10 = \& [ S16 S17 ( -\& - S14 S15 ) [ -| ( \& S12 S13 ) ( \& S10 - S11 ) ] ]}
  \node[exitn, minimum width=128, minimum height=142] (p15exit) at (111,117) {EXIT};
  \room[start]{p15r0}{339,47}{726,328}{R0}
  \room{p15r4}{47,331}{110,719}{R4}
  \room{p15r3}{242,366}{305,720}{R3}
  \room{p15r2}{436,402}{500,719}{R2}
  \room{p15r1}{631,437}{694,720}{R1}
  \node[slbl] (p15s0) at (435,117) {S0};
  \node[slbl] (p15s1) at (500,117) {S1};
  \node[slbl] (p15s2) at (565,117) {S2};
  \node[slbl] (p15s3) at (630,117) {S3};
  \node[slbl] (p15s4) at (435,188) {S4};
  \node[slbl] (p15s5) at (500,188) {S5};
  \node[slbl] (p15s6) at (565,188) {S6};
  \node[slbl] (p15s7) at (630,188) {S7};
  \node[slbl] (p15s8) at (435,259) {S8};
  \node[slbl] (p15s9) at (500,259) {S9};
  \node[slbl] (p15s16) at (76,428) {S16};
  \node[slbl] (p15s17) at (76,623) {S17};
  \node[slbl] (p15s14) at (271,455) {S14};
  \node[slbl] (p15s15) at (271,632) {S15};
  \node[slbl] (p15s12) at (467,481) {S12};
  \node[slbl] (p15s13) at (467,641) {S13};
  \node[slbl] (p15s10) at (662,508) {S10};
  \node[slbl] (p15s11) at (661,650) {S11};
  \node[door, shape border rotate=-6] (p15d10) at (94,273) {D10};
  \node[door, shape border rotate=162] (p15d0) at (680,385) {D0};
  \node[door, shape border rotate=75] (p15d7) at (176,356) {D7};
  \node[door, shape border rotate=75] (p15d4) at (371,391) {D4};
  \node[door, shape border rotate=75] (p15d1) at (566,426) {D1};
  \node[door, shape border rotate=83] (p15d8) at (177,535) {D8};
  \node[door, shape border rotate=83] (p15d5) at (372,552) {D5};
  \node[door, shape border rotate=83] (p15d2) at (566,570) {D2};
  \node[door, shape border rotate=90] (p15d9) at (180,714) {D9};
  \node[door, shape border rotate=90] (p15d6) at (375,715) {D6};
  \node[door, shape border rotate=90] (p15d3) at (570,715) {D3};
  \links{\draw[link] ($(p15r0.south west)!0.92!(p15r0.south east)$) -- (p15d0) -- (p15r1.north);
    \draw[link] (p15r1.north west) -- (p15d1) -- (p15r2.north east);
    \draw[link] (p15r2.north west) -- (p15d4) -- (p15r3.north east);
    \draw[link] (p15r3.north west) -- (p15d7) -- (p15r4.north east);
    \draw[link] (p15r1.west) -- (p15d2) -- (p15r2.east);
    \draw[link] (p15r2.west) -- (p15d5) -- (p15r3.east);
    \draw[link] (p15r3.west) -- (p15d8) -- (p15r4.east);
    \draw[link] (p15d3 -| p15r1.west) -- (p15d3) -- (p15d3 -| p15r2.east);
    \draw[link] (p15d6 -| p15r2.west) -- (p15d6) -- (p15d6 -| p15r3.east);
    \draw[link] (p15d9 -| p15r3.west) -- (p15d9) -- (p15d9 -| p15r4.east);
    \draw[link] ($(p15r4.north west)!0.68!(p15r4.north east)$) -- (p15d10) -- (p15exit.south);}
\end{scope}
\end{tikzpicture}
\end{document}
